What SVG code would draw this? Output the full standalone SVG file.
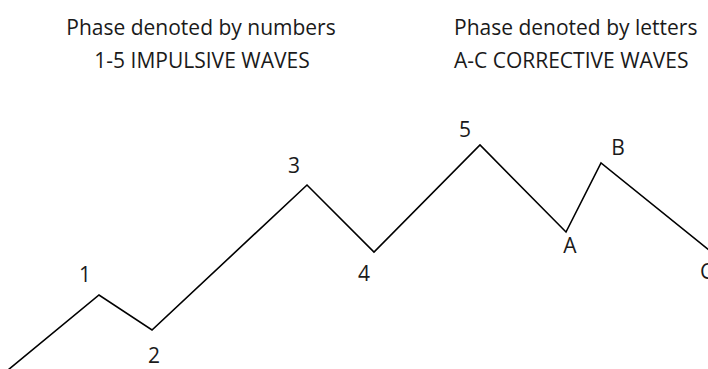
<svg xmlns="http://www.w3.org/2000/svg" width="708" height="369" viewBox="0 0 708 369">
<style>
text{font-family:"Open Sans","Noto Sans","DejaVu Sans",sans-serif;font-size:21px;fill:#1a1a1a}
.c{text-anchor:middle}
.wave{fill:none;stroke:#000;stroke-width:1.6;stroke-linejoin:miter}
</style>
<rect width="708" height="369" fill="#fff"/>
<g id="title-left">
<text class="c" x="201" y="35">Phase denoted by numbers</text>
<text class="c" x="202" y="68">1-5 IMPULSIVE WAVES</text>
</g>
<g id="title-right">
<text x="454" y="35">Phase denoted by letters</text>
<text x="454" y="68">A-C CORRECTIVE WAVES</text>
</g>
<g id="connectors">
<polyline class="wave" points="8,370 99,295 152,330 307,185 374,252 480,145 566,232 601,163 709,250"/>
</g>
<g id="p1"><text class="c" x="85" y="282">1</text></g>
<g id="p2"><text class="c" x="154" y="363">2</text></g>
<g id="p3"><text class="c" x="294" y="173">3</text></g>
<g id="p4"><text class="c" x="364" y="281">4</text></g>
<g id="p5"><text class="c" x="465" y="137">5</text></g>
<g id="pA"><text class="c" x="570" y="253">A</text></g>
<g id="pB"><text class="c" x="618" y="155">B</text></g>
<g id="pC"><text x="700" y="279">C</text></g>
</svg>
